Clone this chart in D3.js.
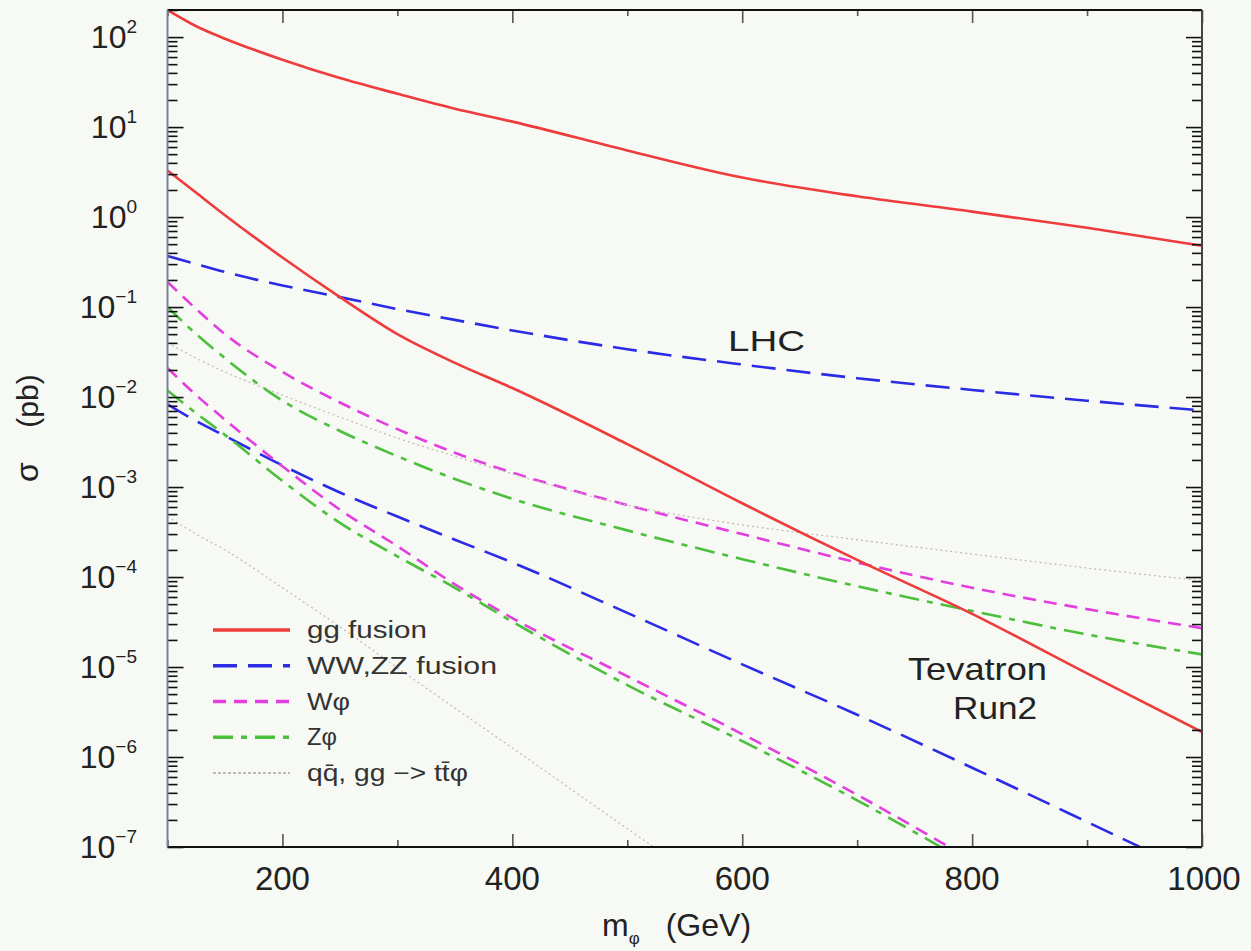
<!DOCTYPE html>
<html lang="en">
<head>
<meta charset="utf-8">
<title>Scalar production cross sections</title>
<style>
    body { margin: 0; background: #f6f9f4; }
    text { font-family: "Liberation Sans", Arial, sans-serif; fill: #222; }
</style>
<script src="https://cdn.jsdelivr.net/npm/d3@7"></script>
</head>
<body>
<svg width="1251" height="951"></svg>
<script>
// masses (GeV) and cross sections (pb)
const masses = [100, 125, 150, 200, 250, 300, 350, 400, 500, 600, 700, 800, 900, 1000];

const ggLHC  = [200, 132, 96, 56, 35, 23.5, 16, 11.5, 5.5, 2.75, 1.7, 1.15, 0.76, 0.48];
const vbfLHC = [0.37, 0.30, 0.245, 0.174, 0.129, 0.095, 0.072, 0.055, 0.034, 0.023, 0.0162, 0.012, 0.0091, 0.0071];
const wLHC   = [0.19, 0.095, 0.05, 0.019, 8.7e-3, 4.4e-3, 2.4e-3, 1.45e-3, 6.3e-4, 3.0e-4, 1.45e-4, 7.6e-5, 4.4e-5, 2.7e-5];
const zLHC   = [0.1, 0.05, 0.027, 9.1e-3, 4.2e-3, 2.2e-3, 1.23e-3, 7.4e-4, 3.3e-4, 1.58e-4, 7.9e-5, 4.2e-5, 2.3e-5, 1.38e-5];
const ttLHC  = [0.04, 0.027, 0.019, 0.0105, 6.0e-3, 3.5e-3, 2.2e-3, 1.4e-3, 6.3e-4, 3.8e-4, 2.6e-4, 1.8e-4, 1.26e-4, 9.1e-5];

const ggTev  = [3.3, 1.86, 1.05, 0.355, 0.129, 0.05, 0.024, 0.0126, 3.0e-3, 6.6e-4, 1.55e-4, 3.9e-5, 8.5e-6, 1.9e-6];
const vbfTev = [8.3e-3, 5.4e-3, 3.7e-3, 1.74e-3, 8.7e-4, 4.7e-4, 2.6e-4, 1.45e-4, 4.0e-5, 1.07e-5, 2.95e-6, 7.6e-7, 1.9e-7, 4.7e-8];
const wTev   = [0.021, 0.0105, 5.6e-3, 1.7e-3, 5.6e-4, 2.2e-4, 8.3e-5, 3.5e-5, 7.9e-6, 1.8e-6, 3.8e-7, 7.1e-8, null, null];
const zTev   = [0.0118, 6.6e-3, 3.8e-3, 1.17e-3, 4.0e-4, 1.7e-4, 7.6e-5, 3.2e-5, 6.3e-6, 1.5e-6, 3.3e-7, 6.3e-8, null, null];
const ttTev  = [4.7e-4, 3.0e-4, 2.0e-4, 7.6e-5, 2.8e-5, 9.8e-6, 3.5e-6, 1.26e-6, 1.6e-7, 2.1e-8, null, null, null, null];

const xMajor = [200, 400, 600, 800, 1000];
const xMinor = [100, 300, 500, 700, 900];
const yExponents = [2, 1, 0, -1, -2, -3, -4, -5, -6, -7];

const legendLabels = ["gg fusion", "WW,ZZ fusion", "Wφ", "Zφ", "qq̄, gg −> tt̄φ"];

// styles per process
const styles = {
    gg:  { color: "#ee3b3b", width: 2.6, dash: null },
    vbf: { color: "#2b2be6", width: 2.6, dash: "24,11" },
    w:   { color: "#e23ee0", width: 2.6, dash: "13,8" },
    z:   { color: "#4cbf3c", width: 2.6, dash: "20,8,6,8" },
    tt:  { color: "#c9b4b4", width: 1.2, dash: "2,3" }
};

const series = [
    { key: "gg", values: ggLHC }, { key: "vbf", values: vbfLHC }, { key: "w", values: wLHC },
    { key: "z", values: zLHC }, { key: "tt", values: ttLHC },
    { key: "gg", values: ggTev }, { key: "vbf", values: vbfTev }, { key: "w", values: wTev },
    { key: "z", values: zTev }, { key: "tt", values: ttTev }
];

const svg = d3.select("svg");
svg.append("rect").attr("width", 1251).attr("height", 951).attr("fill", "#f6f9f4");

const plotLeft = 167.5, plotRight = 1202, plotTop = 10, plotBottom = 847;

const x = d3.scaleLinear().domain([100, 1000]).range([plotLeft, plotRight]);
const y = d3.scaleLog().domain([1e-7, 200]).range([plotBottom, plotTop]);

svg.append("clipPath").attr("id", "plot")
    .append("rect").attr("x", plotLeft).attr("y", plotTop)
    .attr("width", plotRight - plotLeft).attr("height", plotBottom - plotTop);

const line = d3.line()
    .defined(d => d[1] != null)
    .x(d => x(d[0]))
    .y(d => y(d[1]))
    .curve(d3.curveMonotoneX);

const curves = svg.append("g").attr("clip-path", "url(#plot)");
series.forEach(s => {
    const st = styles[s.key];
    curves.append("path")
        .datum(masses.map((m, i) => [m, s.values[i]]))
        .attr("d", line)
        .attr("fill", "none")
        .attr("stroke", st.color)
        .attr("stroke-width", st.width)
        .attr("stroke-dasharray", st.dash);
});

// y ticks, inward on both sides
const yMinor = [];
for (let e = -7; e <= 2; e++) {
    for (let k = 2; k <= 9; k++) {
        const v = k * Math.pow(10, e);
        if (v <= 200) yMinor.push(v);
    }
}
const yMajor = yExponents.map(e => Math.pow(10, e));

function yAxis(gen, xpos, size, values) {
    svg.append("g")
        .attr("transform", `translate(${xpos},0)`)
        .call(gen(y).tickValues(values).tickSize(size).tickFormat(""))
        .call(g => g.select(".domain").remove())
        .call(g => g.selectAll("line").attr("stroke", "#111").attr("stroke-width", 1.6));
}
yAxis(d3.axisRight, plotLeft, 16, yMajor);
yAxis(d3.axisRight, plotLeft, 10, yMinor);
yAxis(d3.axisLeft, plotRight, 16, yMajor);
yAxis(d3.axisLeft, plotRight, 10, yMinor);

function xAxis(gen, ypos, size, values) {
    svg.append("g")
        .attr("transform", `translate(0,${ypos})`)
        .call(gen(x).tickValues(values).tickSize(size).tickFormat(""))
        .call(g => g.select(".domain").remove())
        .call(g => g.selectAll("line").attr("stroke", "#555").attr("stroke-width", 1.6));
}
xAxis(d3.axisTop, plotBottom, 13, xMajor);
xAxis(d3.axisTop, plotBottom, 7, xMinor);
xAxis(d3.axisBottom, plotTop, 13, xMajor);
xAxis(d3.axisBottom, plotTop, 6, xMinor);

// frame
function frame(x1, y1, x2, y2, color) {
    svg.append("line").attr("x1", x1).attr("y1", y1).attr("x2", x2).attr("y2", y2)
        .attr("stroke", color).attr("stroke-width", 2);
}
frame(plotLeft, plotTop, plotRight, plotTop, "#111");
frame(plotLeft, plotBottom, plotRight, plotBottom, "#111");
frame(plotLeft, plotTop, plotLeft, plotBottom, "#7a829a");
frame(plotRight, plotTop, plotRight, plotBottom, "#444");

// y tick labels 10^n
yExponents.forEach(e => {
    const t = svg.append("text")
        .attr("x", 137).attr("y", y(Math.pow(10, e)) + 11)
        .attr("text-anchor", "end")
        .style("font-size", "32px");
    t.append("tspan").text("10");
    t.append("tspan").attr("dy", -15).style("font-size", "19px")
        .text(e < 0 ? "−" + (-e) : String(e));
});

// x tick labels
svg.selectAll(".xlab").data(xMajor).enter().append("text")
    .attr("x", d => x(d) + (d === 1000 ? 2 : 0)).attr("y", 890)
    .attr("text-anchor", "middle")
    .style("font-size", "33px")
    .text(d => d);

// axis titles
const xt = svg.append("text").attr("x", 602).attr("y", 936).style("font-size", "32px");
xt.append("tspan").text("m");
xt.append("tspan").attr("dy", 8).style("font-size", "17px").text("φ");
xt.append("tspan").attr("dy", -8).attr("dx", 26).text("(GeV)");

svg.append("text").attr("transform", "translate(38,472) rotate(-90)")
    .attr("text-anchor", "middle").style("font-size", "32px").text("σ");
svg.append("text").attr("transform", "translate(38,401) rotate(-90)")
    .attr("text-anchor", "middle").style("font-size", "30px").text("(pb)");

// annotations
svg.append("text").attr("x", 728).attr("y", 351).style("font-size", "30px")
    .attr("textLength", 77).attr("lengthAdjust", "spacingAndGlyphs").text("LHC");
svg.append("text").attr("x", 908).attr("y", 680).style("font-size", "32px")
    .attr("textLength", 139).attr("lengthAdjust", "spacingAndGlyphs").text("Tevatron");
svg.append("text").attr("x", 953).attr("y", 719).style("font-size", "32px")
    .attr("textLength", 84).attr("lengthAdjust", "spacingAndGlyphs").text("Run2");

// legend
const legendKeys = ["gg", "vbf", "w", "z", "tt"];
const legendWidths = [120, 190, 43, 30, 161];
const legendY = d3.scalePoint().domain(legendKeys).range([630, 773]);
const legend = svg.append("g");
legendKeys.forEach((k, i) => {
    const st = styles[k];
    const ly = legendY(k);
    legend.append("line")
        .attr("x1", 213).attr("x2", 290).attr("y1", ly).attr("y2", ly)
        .attr("stroke", k === "tt" ? "#8a7a7a" : st.color)
        .attr("stroke-width", k === "tt" ? 1 : 3.4)
        .attr("stroke-dasharray", k === "tt" ? "3,2" : st.dash);
    legend.append("text")
        .attr("x", 307).attr("y", ly + 8)
        .style("font-size", "23px").style("fill", "#333")
        .attr("textLength", legendWidths[i]).attr("lengthAdjust", "spacingAndGlyphs")
        .text(legendLabels[i]);
});
</script>
</body>
</html>
